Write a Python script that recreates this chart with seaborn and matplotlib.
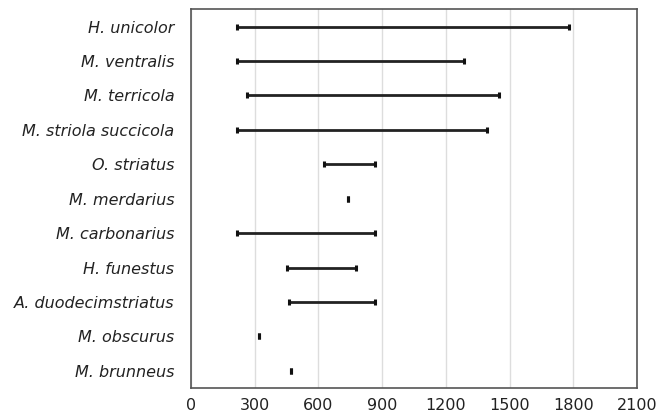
import matplotlib
matplotlib.use("Agg")
import matplotlib.pyplot as plt
import numpy as np
import pandas as pd
import seaborn as sns

# altitude ranges (m)
species = ["H. unicolor", "M. ventralis", "M. terricola", "M. striola succicola",
           "O. striatus", "M. merdarius", "M. carbonarius", "H. funestus",
           "A. duodecimstriatus", "M. obscurus", "M. brunneus"]
low = [215, 215, 265, 215, 625, 738, 215, 450, 462, 319, 471]
high = [1778, 1285, 1452, 1392, 868, 738, 868, 777, 868, 319, 471]

sns.set_style("white")
plt.rcParams["font.family"] = ["DejaVu Sans"]

pos = np.arange(len(species))
df = pd.DataFrame({"species": species * 2,
                   "pos": list(pos) * 2,
                   "alt": low + high})

fig = plt.figure(figsize=(6.59, 4.12), dpi=100)
ax = fig.add_axes([0.2898, 0.0583, 0.6768, 0.9187])

sns.lineplot(data=df, x="alt", y="pos", units="species", estimator=None,
             sort=False, orient="y", color="#222222", lw=2, ax=ax, legend=False)
sns.scatterplot(data=df, x="alt", y="pos", marker="|", s=22, linewidth=2.2,
                color="#111111", ax=ax, legend=False, zorder=4)

ax.set_xlim(0, 2100)
ax.set_ylim(len(species) - 0.5, -0.5)
ax.set_xticks(np.arange(0, 2101, 300))
ax.set_yticks(pos)
ax.set_yticklabels(species, fontstyle="italic", fontsize=11.5, color="#222222")
ax.set_yticks(np.arange(-0.5, len(species), 1), minor=True)
ax.tick_params(axis="y", which="major", length=0, pad=12)
ax.tick_params(axis="y", which="minor", length=4, width=0.8, color="#555555", direction="out")
ax.tick_params(axis="x", length=4, width=0.8, color="#555555", direction="out",
               labelsize=11.5, labelcolor="#222222")
ax.xaxis.grid(True, color="#dddddd", lw=1)
ax.set_axisbelow(True)
for s in ax.spines.values():
    s.set_visible(True)
    s.set_color("#555555")
    s.set_linewidth(1.2)
ax.set_xlabel("")
ax.set_ylabel("")

fig.savefig("out.png", dpi=100)
